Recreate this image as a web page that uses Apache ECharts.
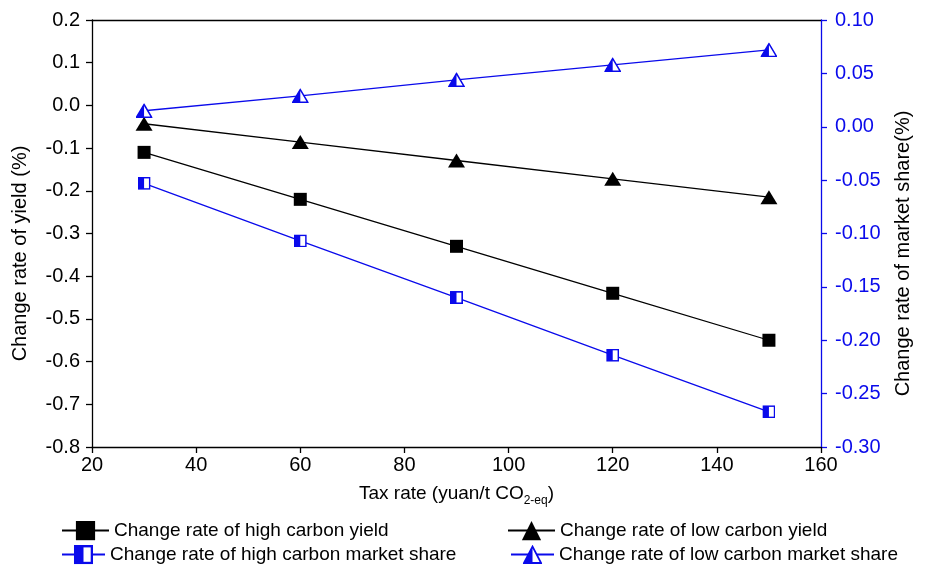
<!DOCTYPE html>
<html>
<head>
<meta charset="utf-8">
<script src="https://cdn.jsdelivr.net/npm/echarts@6/dist/echarts.min.js"></script>
<style>
    html, body { margin: 0; padding: 0; background: #fff; }
    #main { width: 935px; height: 570px; }
</style>
</head>
<body>
<div id="main"></div>
<script>
    // values
    const taxRates = [30, 60, 90, 120, 150];
    const highCarbonYield = [-0.11, -0.22, -0.33, -0.44, -0.55];
    const lowCarbonYield = [-0.043, -0.086, -0.129, -0.172, -0.215];
    const highCarbonShare = [-0.053, -0.107, -0.160, -0.214, -0.267];
    const lowCarbonShare = [0.015, 0.029, 0.044, 0.058, 0.072];

    const seriesNames = [
        'Change rate of high carbon yield',
        'Change rate of low carbon yield',
        'Change rate of high carbon market share',
        'Change rate of low carbon market share'
    ];

    const BLUE = '#0a0aeb';
    const FONT = '"Liberation Sans", Arial, sans-serif';

    function svgSymbol(svg) {
        return 'image://data:image/svg+xml;charset=utf-8,' + encodeURIComponent(svg);
    }
    // half filled markers (left half blue, right half white)
    const halfSquare = svgSymbol(
        "<svg xmlns='http://www.w3.org/2000/svg' width='24' height='24' viewBox='0 0 24 24'>" +
        "<rect x='1.5' y='1.5' width='21' height='21' fill='#fff' stroke='" + BLUE + "' stroke-width='3'/>" +
        "<rect x='1.5' y='1.5' width='10.5' height='21' fill='" + BLUE + "'/></svg>");
    const halfTriangle = svgSymbol(
        "<svg xmlns='http://www.w3.org/2000/svg' width='28' height='24' viewBox='0 0 28 24'>" +
        "<polygon points='14,2 26.5,22.5 1.5,22.5' fill='#fff' stroke='" + BLUE + "' stroke-width='2.5'/>" +
        "<polygon points='14,2 14,22.5 1.5,22.5' fill='" + BLUE + "'/></svg>");

    function pairs(ys) {
        return taxRates.map(function (x, i) { return [x, ys[i]]; });
    }

    function legendAt(name, left, top, width) {
        return {
            data: [name],
            left: left,
            top: top,
            itemWidth: width,
            itemHeight: 24,
            itemGap: 0,
            textStyle: { fontFamily: FONT, fontSize: 19, color: '#000' }
        };
    }

    var chartDom = document.getElementById('main');
    var myChart = echarts.init(chartDom);
    var option;

    option = {
        animation: false,
        backgroundColor: '#fff',
        grid: { left: 92, right: 114, top: 20, bottom: 123 },
        legend: [
            legendAt(seriesNames[0], 56, 516, 47),
            legendAt(seriesNames[1], 502, 516, 47),
            legendAt(seriesNames[2], 56, 540, 43),
            legendAt(seriesNames[3], 505, 540, 43)
        ],
        xAxis: [
            {
                type: 'value',
                min: 20, max: 160, interval: 20,
                name: 'Tax rate (yuan/t CO{sub|2-eq})',
                nameLocation: 'middle',
                nameGap: 34,
                nameTextStyle: {
                    fontFamily: FONT, fontSize: 19, color: '#000',
                    rich: { sub: { fontFamily: FONT, fontSize: 12, color: '#000', padding: [14, 0, 0, 0] } }
                },
                axisLine: { onZero: false, lineStyle: { color: '#000', width: 1.3 } },
                axisTick: { length: 6, lineStyle: { color: '#000', width: 1.3 } },
                axisLabel: { fontFamily: FONT, fontSize: 20, color: '#000', margin: 8 },
                splitLine: { show: false }
            },
            {
                // top frame line only
                type: 'value',
                position: 'top',
                min: 20, max: 160,
                axisLine: { onZero: false, lineStyle: { color: '#000', width: 1.3 } },
                axisTick: { show: false },
                axisLabel: { show: false },
                splitLine: { show: false }
            }
        ],
        yAxis: [
            {
                type: 'value',
                position: 'left',
                min: -0.8, max: 0.2, interval: 0.1,
                name: 'Change rate of yield (%)',
                nameLocation: 'middle',
                nameGap: 62,
                nameTextStyle: { fontFamily: FONT, fontSize: 20, color: '#000', padding: [0, 40, 0, 0] },
                axisLine: { show: true, onZero: false, lineStyle: { color: '#000', width: 1.3 } },
                axisTick: { length: 6, lineStyle: { color: '#000', width: 1.3 } },
                axisLabel: {
                    fontFamily: FONT, fontSize: 20, color: '#000', margin: 12,
                    formatter: function (v) { return v.toFixed(1); }
                },
                splitLine: { show: false }
            },
            {
                type: 'value',
                position: 'right',
                min: -0.3, max: 0.1, interval: 0.05,
                name: 'Change rate of market share(%)',
                nameLocation: 'middle',
                nameRotate: 90,
                nameGap: 72,
                nameTextStyle: { fontFamily: FONT, fontSize: 20, color: '#000', padding: [0, 40, 0, 0] },
                axisLine: { show: true, onZero: false, lineStyle: { color: BLUE, width: 1.3 } },
                axisTick: { length: 6, lineStyle: { color: BLUE, width: 1.3 } },
                axisLabel: {
                    fontFamily: FONT, fontSize: 20, color: BLUE, margin: 14,
                    formatter: function (v) { return v.toFixed(2); }
                },
                splitLine: { show: false }
            }
        ],
        series: [
            {
                name: seriesNames[0],
                type: 'line',
                yAxisIndex: 0,
                data: pairs(highCarbonYield),
                symbol: 'rect',
                symbolSize: 13,
                itemStyle: { color: '#000' },
                lineStyle: { color: '#000', width: 1.3 }
            },
            {
                name: seriesNames[1],
                type: 'line',
                yAxisIndex: 0,
                data: pairs(lowCarbonYield),
                symbol: 'triangle',
                symbolSize: [17, 14],
                itemStyle: { color: '#000' },
                lineStyle: { color: '#000', width: 1.3 }
            },
            {
                name: seriesNames[2],
                type: 'line',
                yAxisIndex: 1,
                data: pairs(highCarbonShare),
                symbol: halfSquare,
                symbolSize: 13,
                itemStyle: { color: BLUE },
                lineStyle: { color: BLUE, width: 1.3 }
            },
            {
                name: seriesNames[3],
                type: 'line',
                yAxisIndex: 1,
                data: pairs(lowCarbonShare),
                symbol: halfTriangle,
                symbolSize: [17, 15],
                itemStyle: { color: BLUE },
                lineStyle: { color: BLUE, width: 1.3 }
            }
        ]
    };

    option && myChart.setOption(option);
</script>
</body>
</html>
